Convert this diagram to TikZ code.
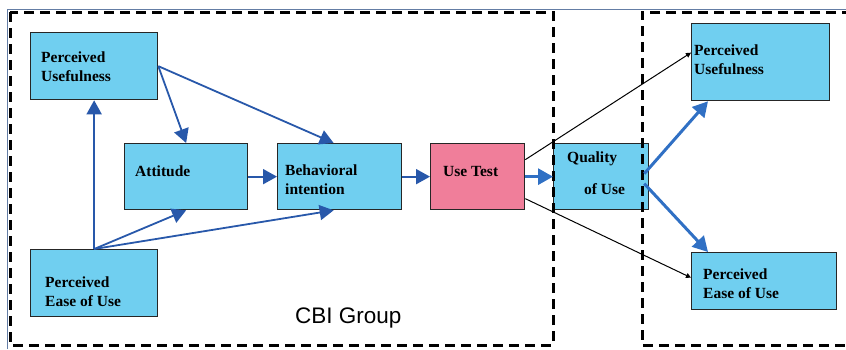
\documentclass[tikz,border=0pt]{standalone}
\usepackage{fontspec}
\setmainfont{Liberation Serif}
\newfontfamily\grpfont{Liberation Sans}
\usetikzlibrary{arrows.meta}
\definecolor{boxcyan}{RGB}{112,207,240}
\definecolor{boxpink}{RGB}{240,126,154}
\definecolor{arrowblue}{RGB}{40,88,170}
\definecolor{arrowblueb}{RGB}{48,112,196}
\definecolor{framegray}{RGB}{100,125,165}
\begin{document}
\begin{tikzpicture}[x=1pt,y=-1pt,
  box/.style={draw=black!85, line width=1.3pt, inner sep=0pt, anchor=north west},
  lbl/.style={anchor=base west, inner sep=0pt, font=\fontsize{15.5}{18}\selectfont\bfseries},
  link/.style={arrowblue, line width=1.8pt, -{Triangle[length=14pt,width=15pt]}},
  linkb/.style={arrowblueb, line width=3pt, -{Triangle[length=15pt,width=16pt]}},
  thinlink/.style={black, line width=1pt, -{Triangle[length=5pt,width=5pt]}},
  region/.style={line width=3pt, dash pattern=on 10pt off 6pt}]
\useasboundingbox (0,0) rectangle (846,349);

% outer frame (top and left)
\draw[framegray, line width=0.7pt] (7,349) -- (7,9) -- (846,9);

% boxes
\node[box, fill=boxcyan, minimum width=127pt, minimum height=67pt] (pu1) at (30,32) {};
\node[box, fill=boxcyan, minimum width=123pt, minimum height=66pt] (att) at (124,143) {};
\node[box, fill=boxcyan, minimum width=124pt, minimum height=66pt] (bi) at (277,143) {};
\node[box, fill=boxcyan, minimum width=127pt, minimum height=67pt] (peou1) at (30,249) {};
\node[box, fill=boxpink, minimum width=94pt, minimum height=66pt] (ut) at (430,143) {};
\node[box, fill=boxcyan, minimum width=95pt, minimum height=66pt] (qou) at (553,143) {};
\node[box, fill=boxcyan, minimum width=138pt, minimum height=77pt] (pu2) at (691,23) {};
\node[box, fill=boxcyan, minimum width=145pt, minimum height=57pt] (peou2) at (691,252) {};

% box texts
\node[lbl] (pu1a) at (41,62) {Perceived};
\node[lbl] (pu1b) at (41,81) {Usefulness};
\node[lbl] (atta) at (135,176) {Attitude};
\node[lbl] (bia) at (285,175) {Behavioral};
\node[lbl] (bib) at (285,194) {intention};
\node[lbl] (peou1a) at (45,287) {Perceived};
\node[lbl] (peou1b) at (45,306) {Ease of Use};
\node[lbl] (uta) at (443,176) {Use Test};
\node[lbl] (qoua) at (567,162) {Quality};
\node[lbl] (qoub) at (584,194) {of Use};
\node[lbl] (pu2a) at (694,55) {Perceived};
\node[lbl] (pu2b) at (694,74) {Usefulness};
\node[lbl] (peou2a) at (703,279) {Perceived};
\node[lbl] (peou2b) at (703,298) {Ease of Use};

% group label
\node[anchor=base west, inner sep=0pt, font=\grpfont\fontsize{22.5}{26}\selectfont] (grp) at (295,323) {CBI Group};

% dashed group regions
\draw[region] (10,12) rectangle (553,345);
\draw[region] (852,12) -- (642,12) -- (642,345) -- (852,345);

% connectors
\draw[link] (peou1.north) -- (pu1.south);
\draw[link] (peou1.north) -- (att.south);
\draw[link] (peou1.north) -- ([xshift=-6pt]bi.south);
\draw[link] (pu1.east) -- (att.north);
\draw[link] (pu1.east) -- ([xshift=-6pt]bi.north);
\draw[link] (att.east) -- (bi.west);
\draw[link] (bi.east) -- (ut.west);
\draw[linkb] (ut.east) -- (qou.west);
\draw[thinlink] ([yshift=17pt]ut.east) -- ([yshift=9.5pt]pu2.west);
\draw[thinlink] ([yshift=-22pt]ut.east) -- ([yshift=3.5pt]peou2.west);
\draw[linkb] ([xshift=-5pt,yshift=3pt]qou.east) -- ([xshift=17pt]pu2.south west);
\draw[linkb] ([xshift=-5pt,yshift=-7pt]qou.east) -- ([xshift=17pt]peou2.north west);
\end{tikzpicture}
\end{document}
